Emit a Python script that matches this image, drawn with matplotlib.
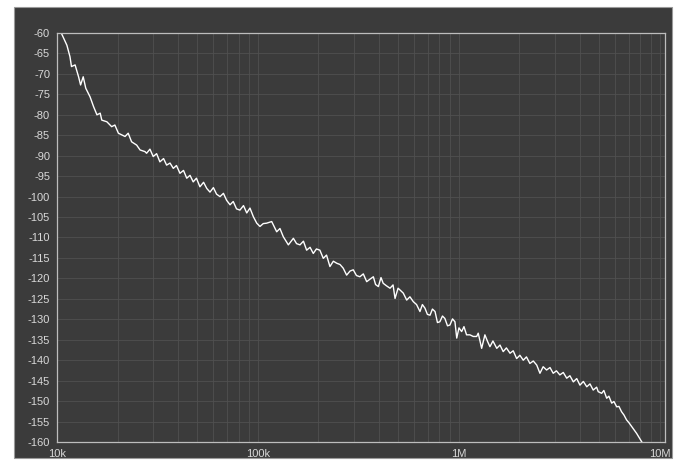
import matplotlib
matplotlib.use("Agg")
import matplotlib.pyplot as plt
from matplotlib.patches import Rectangle
from matplotlib.ticker import FixedLocator, NullFormatter

plt.rcParams["axes.unicode_minus"] = False
plt.rcParams["font.family"] = ["Liberation Sans", "DejaVu Sans"]

# spectrum trace (frequency in kHz, level in dB)
freq_khz = [
    10.5, 11.2, 11.6, 11.8, 12.3, 12.8, 13.1, 13.5, 13.9, 14.6,
    15.2, 15.8, 16.4, 16.7, 17.7, 18.7, 19.4, 20.2, 21.8, 22.6,
    23.5, 24.9, 25.9, 27.4, 27.9, 29.0, 30.1, 31.3, 32.5, 33.9,
    35.1, 36.5, 37.9, 39.3, 40.9, 42.6, 44.2, 45.9, 47.6, 49.4,
    51.4, 53.6, 55.6, 57.7, 60.0, 62.2, 64.7, 67.3, 69.8, 72.6,
    75.3, 78.2, 81.3, 84.7, 87.9, 91.2, 94.8, 98.6, 102.3, 106.2,
    110.4, 117.0, 123.9, 128.6, 133.6, 141.6, 150.0, 155.6, 161.8, 168.3,
    174.6, 181.6, 188.4, 195.4, 203.2, 211.3, 219.3, 228.0, 237.1, 246.6,
    255.9, 265.5, 276.1, 287.1, 297.9, 309.0, 321.4, 334.2, 347.5, 360.6,
    375.0, 384.6, 397.2, 409.3, 419.8, 435.5, 453.9, 469.9, 480.8, 497.7,
    508.1, 528.4, 549.5, 570.2, 592.9, 615.2, 639.7, 657.7, 677.6, 696.6,
    717.8, 737.9, 760.3, 781.6, 803.5, 827.9, 851.1, 877.0, 901.6, 929.0,
    955.0, 974.9, 1000, 1031, 1059, 1091, 1134, 1178, 1225, 1247,
    1297, 1346, 1387, 1426, 1476, 1542, 1600, 1660, 1722, 1795,
    1862, 1936, 2010, 2089, 2167, 2254, 2344, 2438, 2529, 2624,
    2729, 2838, 2944, 3055, 3177, 3304, 3436, 3565, 3707, 3855,
    3999, 4159, 4325, 4487, 4656, 4842, 4932, 5129, 5260, 5433,
    5572, 5754, 5902, 6095, 6252, 6442, 6622, 6823, 7015, 7228,
    7430, 7656, 7834, 8017, 8128,
]
level_db = [
    -60.0, -63.0, -65.8, -68.2, -67.8, -70.7, -72.7, -70.7, -73.5, -75.6,
    -78.0, -80.0, -79.6, -81.3, -81.7, -82.9, -82.5, -84.5, -85.3, -84.5,
    -86.6, -87.4, -88.6, -89.0, -89.4, -88.4, -90.2, -89.5, -91.5, -90.7,
    -92.3, -91.8, -93.1, -92.4, -94.3, -93.6, -95.5, -94.8, -96.4, -95.5,
    -97.6, -96.5, -98.0, -98.9, -97.8, -99.4, -100.0, -99.2, -100.9, -102.0,
    -101.2, -103.0, -103.3, -102.2, -104.0, -102.8, -104.9, -106.5, -107.3, -106.6,
    -106.5, -106.1, -108.6, -107.8, -109.8, -111.8, -110.2, -111.5, -111.8, -110.9,
    -113.1, -112.4, -113.9, -112.8, -113.1, -115.1, -114.3, -117.1, -115.8, -116.3,
    -116.6, -117.5, -119.2, -118.2, -117.9, -119.3, -119.6, -118.9, -120.8, -120.2,
    -119.6, -121.5, -122.0, -119.8, -121.2, -121.8, -122.4, -121.6, -124.9, -122.4,
    -122.8, -123.6, -125.3, -124.5, -125.7, -126.4, -128.1, -126.4, -127.3, -128.8,
    -129.0, -127.5, -128.1, -130.8, -130.6, -129.2, -129.8, -131.6, -131.4, -129.9,
    -130.6, -134.6, -132.1, -133.0, -131.8, -133.8, -133.8, -134.2, -134.2, -133.4,
    -137.1, -133.8, -135.4, -136.7, -135.3, -137.1, -136.3, -137.9, -137.0, -138.3,
    -137.7, -139.6, -138.8, -140.0, -139.2, -140.8, -140.2, -141.2, -143.2, -141.6,
    -142.4, -141.8, -143.2, -142.6, -143.6, -143.0, -144.4, -143.8, -145.3, -144.5,
    -146.1, -145.2, -146.5, -145.8, -147.3, -146.6, -147.7, -148.1, -147.4, -149.3,
    -148.8, -150.5, -150.1, -151.4, -151.3, -152.6, -153.4, -154.6, -155.3, -156.2,
    -157.0, -157.9, -158.7, -159.5, -160.0,
]

x_ticks = [1e4, 1e5, 1e6, 1e7]
x_tick_labels = ["10k", "100k", "1M", "10M"]
y_ticks = list(range(-60, -161, -5))

bg = "#3b3b3b"
fig = plt.figure(figsize=(6.87, 4.65), dpi=100, facecolor="white")
fig.patches.append(Rectangle((0.0204, 0.015), 0.958, 0.970, transform=fig.transFigure,
                             facecolor=bg, edgecolor="#9a9a9a", linewidth=0.8, zorder=-5))

ax = fig.add_axes([0.083, 0.0495, 0.885, 0.8795])
ax.set_facecolor(bg)
ax.plot([f * 1e3 for f in freq_khz], level_db, color="white", linewidth=1.0)

ax.set_xscale("log")
ax.set_xlim(1e4, 1.06e7)
ax.set_ylim(-160, -60)

ax.xaxis.set_major_locator(FixedLocator(x_ticks))
ax.set_xticklabels(x_tick_labels)
ax.xaxis.set_minor_locator(FixedLocator([m * d for d in (1e4, 1e5, 1e6) for m in range(2, 10)]))
ax.xaxis.set_minor_formatter(NullFormatter())
ax.set_yticks(y_ticks)

ax.grid(True, which="both", axis="x", color="#505050", linewidth=0.6)
ax.grid(True, which="major", axis="y", color="#505050", linewidth=0.6)
ax.tick_params(which="both", length=0, colors="#d8d8d8", labelsize=8, pad=5)

for s in ax.spines.values():
    s.set_color("#bdbdbd")
    s.set_linewidth(0.9)

fig.savefig("out.png", dpi=100, facecolor="white")
